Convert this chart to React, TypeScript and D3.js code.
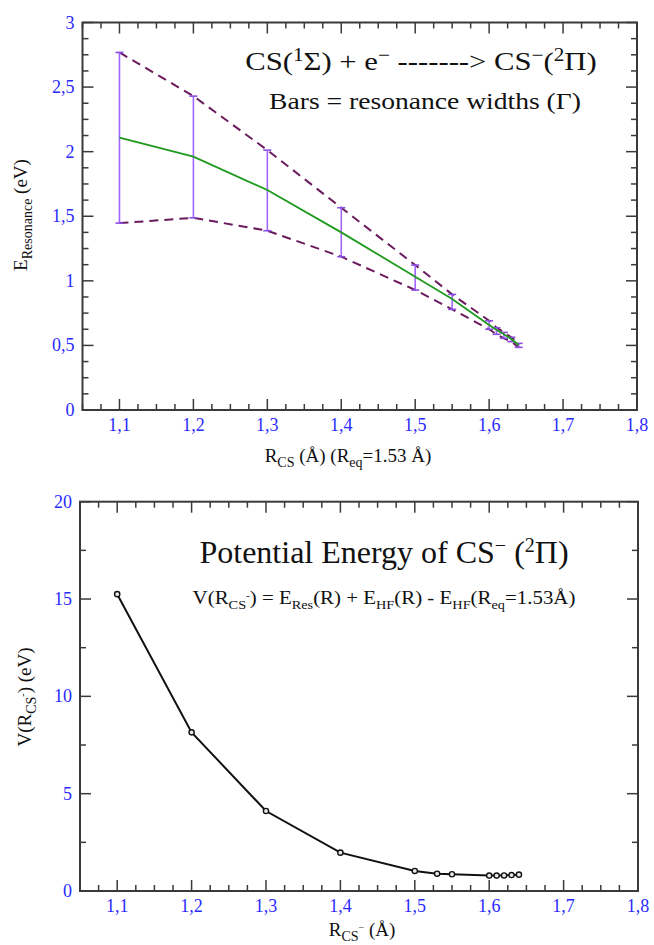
import React from 'react';
import * as d3 from 'd3';

// ---------- data ----------
const R_RES = [1.1, 1.2, 1.3, 1.4, 1.5, 1.55, 1.6, 1.61, 1.62, 1.63, 1.64];
const E_RES = [2.108, 1.961, 1.703, 1.375, 1.032, 0.859, 0.658, 0.619, 0.586, 0.55, 0.503];
const E_UPPER = [2.768, 2.43, 2.012, 1.566, 1.122, 0.895, 0.691, 0.637, 0.601, 0.563, 0.516];
const E_LOWER = [1.447, 1.488, 1.388, 1.187, 0.929, 0.779, 0.625, 0.586, 0.555, 0.529, 0.485];

const R_POT = [1.1, 1.2, 1.3, 1.4, 1.5, 1.53, 1.55, 1.6, 1.61, 1.62, 1.63, 1.64];
const V_POT = [15.25, 8.15, 4.11, 1.97, 1.03, 0.89, 0.86, 0.79, 0.79, 0.8, 0.82, 0.84];

const X_TICKS = [1.1, 1.2, 1.3, 1.4, 1.5, 1.6, 1.7, 1.8];
const X_TICK_LABELS = ['1,1', '1,2', '1,3', '1,4', '1,5', '1,6', '1,7', '1,8'];
const Y1_TICKS = [0, 0.5, 1, 1.5, 2, 2.5, 3];
const Y1_TICK_LABELS = ['0', '0,5', '1', '1,5', '2', '2,5', '3'];
const Y2_TICKS = [0, 5, 10, 15, 20];
const Y2_TICK_LABELS = ['0', '5', '10', '15', '20'];

const FONT = "'Liberation Serif', 'Times New Roman', serif";
const AXIS = '#3a3a3a';
const BLUE = '#2a2aff';

type FrameProps = {
  x: d3.ScaleLinear<number, number>;
  y: d3.ScaleLinear<number, number>;
  xMinorStep: number;
  yMinorStep: number;
  yTicks: number[];
  yLabels: string[];
};

function Frame({ x, y, xMinorStep, yMinorStep, yTicks, yLabels }: FrameProps) {
  const [x0, x1] = x.range();
  const [yb, yt] = y.range();
  const [dx0, dx1] = x.domain();
  const [dy0, dy1] = y.domain();
  const nx = Math.round((dx1 - dx0) / xMinorStep);
  const ny = Math.round((dy1 - dy0) / yMinorStep);
  const xMinor = d3.range(0, nx + 1).map((i) => dx0 + i * xMinorStep);
  const yMinor = d3.range(0, ny + 1).map((i) => dy0 + i * yMinorStep);
  const isMajX = (v: number) => X_TICKS.some((t) => Math.abs(t - v) < 1e-6);
  const isMajY = (v: number) => yTicks.some((t) => Math.abs(t - v) < 1e-6);
  const MAJ = 11;
  const MIN = 6;
  return (
    <g>
      {xMinor.map((v, i) => {
        const L = isMajX(v) ? MAJ : MIN;
        const px = x(v);
        return (
          <g key={'xt' + i}>
            <line x1={px} x2={px} y1={yb} y2={yb - L} stroke={AXIS} strokeWidth={1.5} />
            <line x1={px} x2={px} y1={yt} y2={yt + L} stroke={AXIS} strokeWidth={1.5} />
          </g>
        );
      })}
      {yMinor.map((v, i) => {
        const L = isMajY(v) ? MAJ : MIN;
        const py = y(v);
        return (
          <g key={'yt' + i}>
            <line x1={x0} x2={x0 + L} y1={py} y2={py} stroke={AXIS} strokeWidth={1.5} />
            <line x1={x1} x2={x1 - L} y1={py} y2={py} stroke={AXIS} strokeWidth={1.5} />
          </g>
        );
      })}
      <rect x={x0} y={yt} width={x1 - x0} height={yb - yt} fill="none" stroke={AXIS} strokeWidth={2} />
      {X_TICKS.map((v, i) => (
        <text key={'xl' + i} x={x(v)} y={yb + 21} textAnchor="middle" fontSize={18} fill={BLUE} fontFamily={FONT}>
          {X_TICK_LABELS[i]}
        </text>
      ))}
      {yTicks.map((v, i) => (
        <text key={'yl' + i} x={x0 - 8} y={y(v) + 6} textAnchor="end" fontSize={18} fill={BLUE} fontFamily={FONT}>
          {yLabels[i]}
        </text>
      ))}
    </g>
  );
}

export default function App() {
  // top panel
  const x1 = d3.scaleLinear().domain([1.05, 1.8]).range([82.5, 637]);
  const y1 = d3.scaleLinear().domain([0, 3]).range([410, 22.5]);
  // bottom panel
  const x2 = d3.scaleLinear().domain([1.05, 1.8]).range([80, 638]);
  const y2 = d3.scaleLinear().domain([0, 20]).range([891, 501.7]);

  const line1 = d3
    .line<number>()
    .x((_, i) => x1(R_RES[i]))
    .y((d) => y1(d));
  const line2 = d3
    .line<number>()
    .x((_, i) => x2(R_POT[i]))
    .y((d) => y2(d));

  const supDy = -9;
  return (
    <svg width={654} height={945} style={{ position: 'absolute', left: 0, top: 0 }} fontFamily={FONT}>
      <rect x={0} y={0} width={654} height={945} fill="#fff" />

      {/* ---------- top panel ---------- */}
      <Frame x={x1} y={y1} xMinorStep={0.025} yMinorStep={0.125} yTicks={Y1_TICKS} yLabels={Y1_TICK_LABELS} />
      <path d={line1(E_UPPER) || ''} fill="none" stroke="#6b1a5e" strokeWidth={2} strokeDasharray="9,6" />
      <path d={line1(E_LOWER) || ''} fill="none" stroke="#6b1a5e" strokeWidth={2} strokeDasharray="9,6" />
      {R_RES.map((r, i) => (
        <g key={'eb' + i}>
          <line x1={x1(r)} x2={x1(r)} y1={y1(E_UPPER[i])} y2={y1(E_LOWER[i])} stroke="#a066ff" strokeWidth={1.6} />
          <line x1={x1(r) - 4} x2={x1(r) + 4} y1={y1(E_UPPER[i])} y2={y1(E_UPPER[i])} stroke="#8a4fe0" strokeWidth={1.6} />
          <line x1={x1(r) - 4} x2={x1(r) + 4} y1={y1(E_LOWER[i])} y2={y1(E_LOWER[i])} stroke="#8a4fe0" strokeWidth={1.6} />
        </g>
      ))}
      <path d={line1(E_RES) || ''} fill="none" stroke="#1f9a1f" strokeWidth={1.8} />

      <g transform="translate(421,70) scale(1.18,1)">
        <text textAnchor="middle" fontSize={26} fill="#111">
          CS(<tspan dy={supDy} fontSize={18}>1</tspan>
          <tspan dy={-supDy}>Σ) + e</tspan>
          <tspan dy={supDy} fontSize={18}>−</tspan>
          <tspan dy={-supDy}> -------&gt; CS</tspan>
          <tspan dy={supDy} fontSize={18}>−</tspan>
          <tspan dy={-supDy}>(</tspan>
          <tspan dy={supDy} fontSize={18}>2</tspan>
          <tspan dy={-supDy}>Π)</tspan>
        </text>
      </g>
      <g transform="translate(425,109) scale(1.2,1)">
        <text textAnchor="middle" fontSize={23} fill="#111">
          Bars = resonance widths (Γ)
        </text>
      </g>

      <text transform="translate(27,215) rotate(-90)" textAnchor="middle" fontSize={19} fill="#111">
        E<tspan dy={5} fontSize={14}>Resonance</tspan>
        <tspan dy={-5}> (eV)</tspan>
      </text>
      <text x={348} y={462} textAnchor="middle" fontSize={19} fill="#111">
        R<tspan dy={5} fontSize={14}>CS</tspan>
        <tspan dy={-5}> (Å) (R</tspan>
        <tspan dy={5} fontSize={14}>eq</tspan>
        <tspan dy={-5}>=1.53 Å)</tspan>
      </text>

      {/* ---------- bottom panel ---------- */}
      <Frame x={x2} y={y2} xMinorStep={0.025} yMinorStep={2.5} yTicks={Y2_TICKS} yLabels={Y2_TICK_LABELS} />
      <path d={line2(V_POT) || ''} fill="none" stroke="#111" strokeWidth={2} />
      {R_POT.map((r, i) => (
        <circle key={'pt' + i} cx={x2(r)} cy={y2(V_POT[i])} r={2.6} fill="#e8e8e8" stroke="#111" strokeWidth={1.4} />
      ))}

      <text x={384} y={563} textAnchor="middle" fontSize={32} fill="#111">
        Potential Energy of CS<tspan dy={-11} fontSize={20}>−</tspan>
        <tspan dy={11}> (</tspan>
        <tspan dy={-11} fontSize={20}>2</tspan>
        <tspan dy={11}>Π)</tspan>
      </text>
      <g transform="translate(384,604) scale(1.1,1)">
        <text textAnchor="middle" fontSize={19} fill="#111">
          V(R<tspan dy={5} fontSize={13}>CS</tspan>
          <tspan dy={-10} fontSize={10}>-</tspan>
          <tspan dy={5}>) = E</tspan>
          <tspan dy={5} fontSize={13}>Res</tspan>
          <tspan dy={-5}>(R) + E</tspan>
          <tspan dy={5} fontSize={13}>HF</tspan>
          <tspan dy={-5}>(R) - E</tspan>
          <tspan dy={5} fontSize={13}>HF</tspan>
          <tspan dy={-5}>(R</tspan>
          <tspan dy={5} fontSize={13}>eq</tspan>
          <tspan dy={-5}>=1.53Å)</tspan>
        </text>
      </g>

      <text transform="translate(31,697) rotate(-90)" textAnchor="middle" fontSize={19} fill="#111">
        V(R<tspan dy={5} fontSize={14}>CS</tspan>
        <tspan dy={-10} fontSize={10}>-</tspan>
        <tspan dy={5}>) (eV)</tspan>
      </text>
      <text x={362} y={936} textAnchor="middle" fontSize={19} fill="#111">
        R<tspan dy={5} fontSize={14}>CS</tspan>
        <tspan dy={-10} fontSize={10}>−</tspan>
        <tspan dy={5}> (Å)</tspan>
      </text>
    </svg>
  );
}
